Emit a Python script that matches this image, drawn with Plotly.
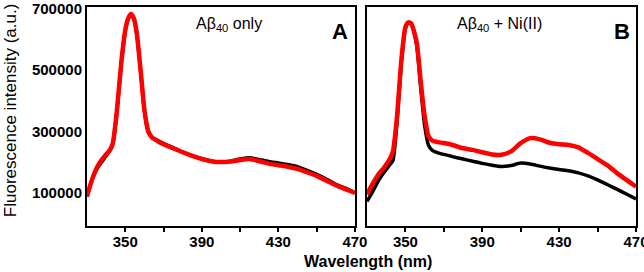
import plotly.graph_objects as go

wavelength = [330, 333, 336, 339, 342, 343.5, 345.5, 348, 350, 351.5, 353, 354.5, 356, 358, 360, 362, 364, 367,
              370, 375, 380, 385, 390, 395, 400, 405, 410, 415, 420, 425, 430, 435, 440, 445, 450, 455, 460, 465, 470]

a_black = [88000, 148000, 186000, 212000, 238000, 260000, 355000, 525000, 628000, 666000, 680000, 666000, 618000,
           498000, 368000, 300000, 281000, 270000, 260000, 247000, 233000, 221000, 211000, 203000, 200000, 203000,
           210000, 214000, 208000, 202000, 197000, 192000, 185000, 173000, 160000, 145000, 128000, 115000, 100000]
a_red = [90000, 150000, 192000, 218000, 240000, 262000, 360000, 530000, 630000, 668000, 682000, 668000, 620000,
         500000, 370000, 300000, 280000, 268000, 258000, 245000, 232000, 220000, 210000, 203000, 200000, 202000,
         207000, 210000, 203000, 195000, 190000, 185000, 178000, 167000, 155000, 140000, 125000, 112000, 100000]

b_black = [72000, 105000, 140000, 168000, 192000, 205000, 320000, 530000, 635000, 652000, 650000, 622000, 575000,
           440000, 320000, 255000, 238000, 230000, 225000, 217000, 210000, 203000, 196000, 190000, 186000, 189000,
           197000, 194000, 187000, 181000, 176000, 172000, 165000, 155000, 142000, 127000, 112000, 96000, 80000]
b_red = [95000, 130000, 160000, 183000, 212000, 235000, 340000, 540000, 640000, 655000, 652000, 625000, 585000,
         460000, 350000, 285000, 270000, 265000, 262000, 255000, 245000, 240000, 232000, 225000, 224000, 235000,
         262000, 278000, 274000, 263000, 258000, 256000, 248000, 230000, 210000, 190000, 165000, 142000, 120000]

x_ticks = [350, 390, 430, 470]
x_minor = [370, 410, 450]
y_ticks = [100000, 300000, 500000, 700000]

fig = go.Figure()
for xa, ya, blk, red in [("x", "y", a_black, a_red), ("x2", "y2", b_black, b_red)]:
    fig.add_trace(go.Scatter(x=wavelength, y=blk, mode="lines", xaxis=xa, yaxis=ya,
                             line=dict(color="black", width=3.5, shape="spline", smoothing=0.6),
                             showlegend=False))
    fig.add_trace(go.Scatter(x=wavelength, y=red, mode="lines", xaxis=xa, yaxis=ya,
                             line=dict(color="#ff0000", width=4.5, shape="spline", smoothing=0.6),
                             showlegend=False))

FAM = "Liberation Sans, Arial, sans-serif"
tickfont = dict(family=FAM, size=15, color="black", weight="bold")
xcommon = dict(range=[330, 470], tickvals=x_ticks, ticktext=[str(v) for v in x_ticks],
               showline=True, mirror=True, linecolor="black", linewidth=2, automargin=False,
               ticks="outside", ticklen=4, tickwidth=2, tickcolor="black", showgrid=False, zeroline=False,
               tickfont=tickfont, ticklabeloverflow="allow", ticklabelstandoff=-3,
               minor=dict(tickvals=x_minor, ticks="outside", ticklen=4, tickcolor="black", tickwidth=2, showgrid=False))
ycommon = dict(range=[-8000, 705000], tickvals=y_ticks, showline=True, mirror=True, linecolor="black",
               linewidth=2, ticks="", showgrid=False, zeroline=False, tickfont=tickfont, automargin=False,
               ticklabeloverflow="allow")

fig.update_layout(
    width=644, height=272,
    margin=dict(l=87, r=8, t=7, b=46),
    plot_bgcolor="white", paper_bgcolor="white",
    xaxis=dict(domain=[0, 0.488], **xcommon),
    xaxis2=dict(domain=[0.510, 1.0], anchor="y2", **xcommon),
    yaxis=dict(domain=[0, 1], anchor="x", tickformat="d", **ycommon),
    yaxis2=dict(domain=[0, 1], anchor="x2", showticklabels=False, **ycommon),
)

labfont = dict(family=FAM, size=16, color="black")
bigfont = dict(family=FAM, size=22, color="black", weight="bold")
titlefont = dict(family=FAM, size=16, color="black", weight="bold")
ytitlefont = dict(family=FAM, size=17, color="black")
common = dict(xref="paper", yref="paper", showarrow=False, xanchor="center", yanchor="middle")
fig.add_annotation(text="Aβ<sub>40</sub> only", x=0.259, y=0.918, font=labfont, **common)
fig.add_annotation(text="Aβ<sub>40</sub> + Ni(II)", x=0.752, y=0.918, font=labfont, **common)
fig.add_annotation(text="A", x=0.461, y=0.886, font=bigfont, **common)
fig.add_annotation(text="B", x=0.975, y=0.886, font=bigfont, **common)
fig.add_annotation(text="Wavelength (nm)", x=0.512, y=-0.163, font=titlefont, **common)
fig.add_annotation(text="Fluorescence intensity (a.u.)", x=-0.138, y=0.530, textangle=-90, font=ytitlefont, **common)

fig.write_html("out.html", config={"displayModeBar": False},
               post_script="document.body.style.margin='0';document.body.style.padding='0';")
